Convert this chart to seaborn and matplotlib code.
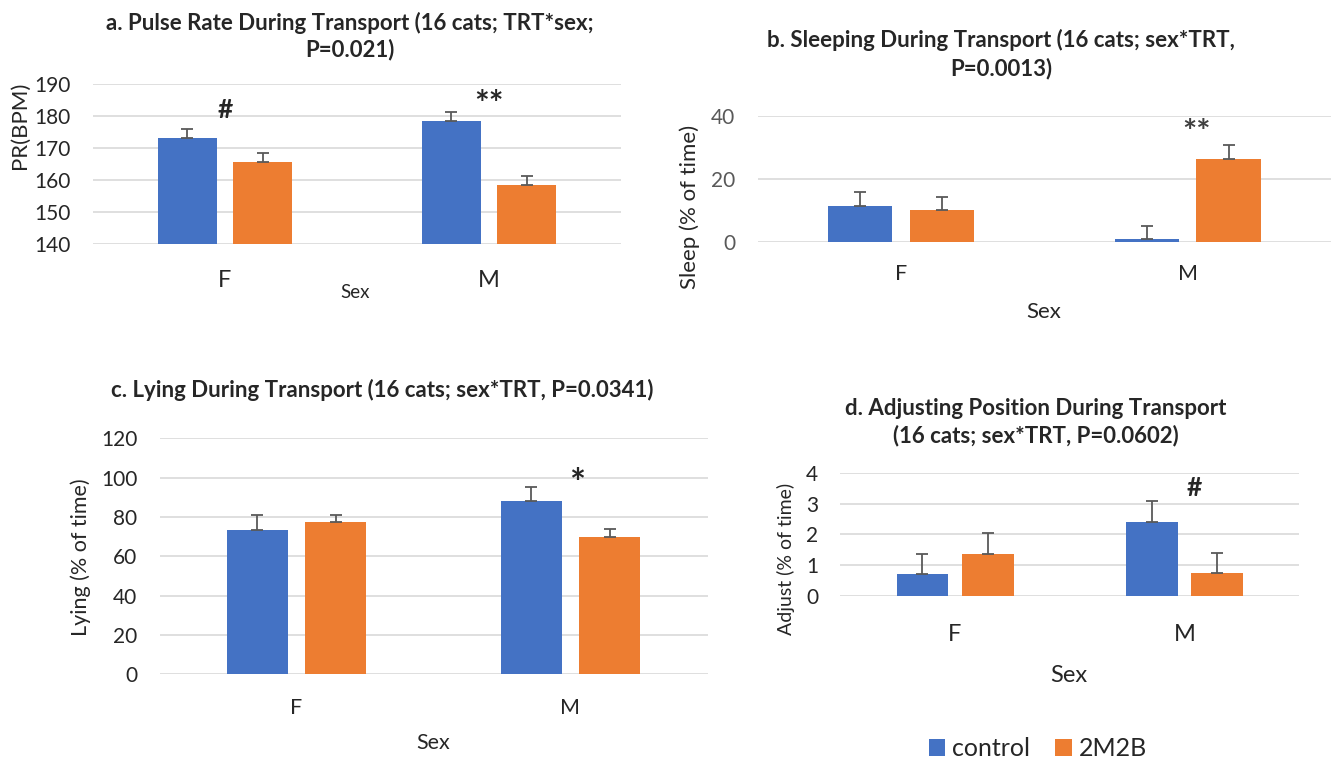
import matplotlib
matplotlib.use("Agg")
import matplotlib.pyplot as plt
import seaborn as sns
import pandas as pd

# data
sexes = ['F', 'M']
treatments = ['control', '2M2B']
colors = ['#4472C4', '#ED7D31']

pr_control = [173.0, 178.5]
pr_2m2b = [165.4, 158.3]
pr_err_control = [2.9, 2.8]
pr_err_2m2b = [2.9, 2.9]

sleep_control = [11.4, 0.8]
sleep_2m2b = [10.0, 26.3]
sleep_err_control = [4.3, 4.3]
sleep_err_2m2b = [4.2, 4.3]

lying_control = [73.5, 87.9]
lying_2m2b = [77.2, 69.8]
lying_err_control = [7.3, 7.3]
lying_err_2m2b = [3.9, 4.1]

adjust_control = [0.70, 2.41]
adjust_2m2b = [1.37, 0.74]
adjust_err_control = [0.66, 0.67]
adjust_err_2m2b = [0.66, 0.66]

sns.set_theme(style="white")
plt.rcParams['font.family'] = ['Lato', 'DejaVu Sans']

fig = plt.figure(figsize=(13.35, 7.62), dpi=100)
W, H = 1335, 762


def add_axes(left, top, right, bottom):
    # pixel box -> figure fraction
    return fig.add_axes([left / W, 1 - bottom / H, (right - left) / W, (bottom - top) / H])


def draw_panel(ax, ctrl, trt, err_c, err_t, ylim, yticks):
    df = pd.DataFrame({'Sex': sexes * 2,
                       'TRT': [treatments[0]] * 2 + [treatments[1]] * 2,
                       'value': ctrl + trt})
    sns.barplot(data=df, x='Sex', y='value', hue='TRT', hue_order=treatments,
                palette=colors, saturation=1, width=0.57, gap=0.21,
                errorbar=None, legend=False, linewidth=0, ax=ax)
    for bars, errs in zip(ax.containers, [err_c, err_t]):
        xs = [b.get_x() + b.get_width() / 2 for b in bars]
        ys = [b.get_height() for b in bars]
        ax.errorbar(xs, ys, yerr=[[0] * len(errs), errs], fmt='none',
                    ecolor='#595959', elinewidth=1.3, capsize=4, capthick=1.3)
    ax.set_xlim(-0.5, 1.5)
    ax.set_ylim(*ylim)
    ax.set_yticks(yticks)
    ax.yaxis.grid(True, color='#d9d9d9', linewidth=1.2)
    ax.set_axisbelow(True)
    sns.despine(ax=ax, left=True, bottom=True)
    ax.tick_params(length=0)


# a. pulse rate
ax_a = add_axes(93, 84, 621, 243.5)
draw_panel(ax_a, pr_control, pr_2m2b, pr_err_control, pr_err_2m2b, (140, 190), range(140, 191, 10))
ax_a.tick_params(axis='y', labelsize=15, pad=16)
ax_a.tick_params(axis='x', labelsize=17, pad=19)
ax_a.set_xlabel('Sex', fontsize=13.5, va='center')
ax_a.xaxis.set_label_coords(0.496, -0.31)
ax_a.set_ylabel('PR(BPM)', fontsize=16, va='center')
ax_a.yaxis.set_label_coords(-0.138, 0.743)
ax_a.text(0, 181.8, '#', ha='center', va='center', fontsize=19, fontweight='bold')
ax_a.text(1, 183.3, '**', ha='center', va='center', fontsize=25, fontweight='bold')
fig.text(350 / W, 1 - 36 / H, 'a. Pulse Rate During Transport (16 cats; TRT*sex;\nP=0.021)',
         ha='center', va='center', fontsize=16, fontweight='bold', linespacing=1.3)

# b. sleeping
ax_b = add_axes(757.6, 115.7, 1331, 241.7)
draw_panel(ax_b, sleep_control, sleep_2m2b, sleep_err_control, sleep_err_2m2b, (0, 40), [0, 20, 40])
ax_b.tick_params(axis='y', labelsize=15, pad=16, labelcolor='#595959')
ax_b.tick_params(axis='x', labelsize=15.5, pad=16)
ax_b.set_xlabel('Sex', fontsize=16, va='center')
ax_b.xaxis.set_label_coords(0.4995, -0.556)
ax_b.set_ylabel('Sleep (% of time)', fontsize=16, va='center')
ax_b.yaxis.set_label_coords(-0.118, 0.279)
ax_b.text(1.03, 34.5, '**', ha='center', va='center', fontsize=24, fontweight='bold', color='#404040')
fig.text(1001 / W, 1 - 54.3 / H, 'b. Sleeping During Transport (16 cats; sex*TRT,\nP=0.0013)',
         ha='center', va='center', fontsize=16, fontweight='bold', linespacing=1.4)

# c. lying
ax_c = add_axes(159.5, 438.3, 707.5, 674.3)
draw_panel(ax_c, lying_control, lying_2m2b, lying_err_control, lying_err_2m2b, (0, 120), range(0, 121, 20))
ax_c.tick_params(axis='y', labelsize=15, pad=16)
ax_c.tick_params(axis='x', labelsize=15.5, pad=17)
ax_c.set_xlabel('Sex', fontsize=15.5, va='center')
ax_c.xaxis.set_label_coords(0.499, -0.291)
ax_c.set_ylabel('Lying (% of time)', fontsize=15.5, va='center')
ax_c.yaxis.set_label_coords(-0.143, 0.497)
ax_c.text(1.023, 96, '*', ha='center', va='center', fontsize=27, fontweight='bold')
fig.text(382 / W, 1 - 390 / H, 'c. Lying During Transport (16 cats; sex*TRT, P=0.0341)',
         ha='center', va='center', fontsize=16, fontweight='bold')

# d. adjusting position
ax_d = add_axes(840.3, 472.7, 1299.3, 596)
draw_panel(ax_d, adjust_control, adjust_2m2b, adjust_err_control, adjust_err_2m2b, (0, 4), range(0, 5))
ax_d.tick_params(axis='y', labelsize=15, pad=16)
ax_d.tick_params(axis='x', labelsize=17, pad=20)
ax_d.set_xlabel('Sex', fontsize=17, va='center')
ax_d.xaxis.set_label_coords(0.498, -0.641)
ax_d.set_ylabel('Adjust (% of time)', fontsize=14, va='center')
ax_d.yaxis.set_label_coords(-0.119, 0.304)
ax_d.text(1.041, 3.49, '#', ha='center', va='center', fontsize=19, fontweight='bold')
fig.text(1036 / W, 1 - 422.3 / H, 'd. Adjusting Position During Transport\n(16 cats; sex*TRT, P=0.0602)',
         ha='center', va='center', fontsize=16, fontweight='bold', linespacing=1.35)

# shared legend
fig.legend(handles=list(ax_d.containers[:2]), labels=treatments, loc='center',
           bbox_to_anchor=(1038 / W, 1 - 749 / H), ncol=2, frameon=False, fontsize=18,
           handlelength=0.65, handleheight=0.65, handletextpad=0.3, columnspacing=1.0)

plt.savefig('out.png', dpi=100)
